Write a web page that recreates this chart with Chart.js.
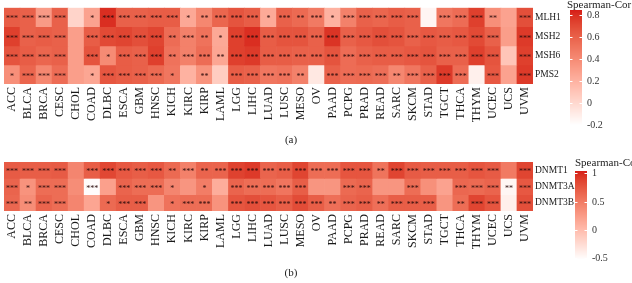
<!DOCTYPE html>
<html><head><meta charset="utf-8">
<script src="https://cdn.jsdelivr.net/npm/chart.js@4/dist/chart.umd.min.js"></script>
<style>
html,body{margin:0;padding:0;background:#fff;}
#wrap{position:relative;width:632px;height:283px;overflow:hidden;background:#fff;}
#a{position:absolute;left:0;top:0;}
#b{position:absolute;left:0;top:150px;}
</style></head><body>
<div id="wrap"><canvas id="a" width="632" height="150"></canvas><canvas id="b" width="632" height="133"></canvas></div>
<script>
// ---------- data ----------
const cancers = ['ACC','BLCA','BRCA','CESC','CHOL','COAD','DLBC','ESCA','GBM','HNSC','KICH','KIRC','KIRP','LAML','LGG','LIHC','LUAD','LUSC','MESO','OV','PAAD','PCPG','PRAD','READ','SARC','SKCM','STAD','TGCT','THCA','THYM','UCEC','UCS','UVM'];

const genesA = ['MLH1','MSH2','MSH6','PMS2'];
const MLH1 = [0.62,0.60,0.32,0.60,0.02,0.28,0.80,0.60,0.60,0.62,0.62,0.25,0.42,0.58,0.66,0.62,0.24,0.60,0.56,0.48,0.20,0.45,0.60,0.58,0.62,0.60,-0.15,0.50,0.55,0.74,0.38,0.28,0.68];
const MSH2 = [0.74,0.60,0.62,0.60,0.30,0.62,0.70,0.72,0.68,0.72,0.55,0.45,0.52,0.25,0.74,0.80,0.62,0.66,0.66,0.60,0.78,0.60,0.64,0.68,0.66,0.60,0.64,0.62,0.64,0.70,0.60,0.30,0.76];
const MSH6 = [0.66,0.62,0.58,0.60,0.30,0.66,0.40,0.62,0.60,0.74,0.52,0.45,0.55,0.26,0.74,0.76,0.62,0.62,0.60,0.60,0.66,0.55,0.60,0.62,0.62,0.64,0.66,0.60,0.60,0.74,0.66,0.10,0.74];
const PMS2 = [0.38,0.58,0.42,0.55,0.30,0.26,0.65,0.62,0.60,0.56,0.50,0.20,0.36,0.06,0.62,0.60,0.50,0.52,0.45,-0.08,0.60,0.55,0.56,0.54,0.42,0.50,0.60,0.76,0.55,-0.12,0.64,0.28,0.76];
const starsMLH1 = [3,3,3,3,0,1,3,3,3,3,3,1,2,3,3,3,1,3,2,3,1,3,3,3,3,3,0,3,3,3,2,0,3];
const starsMSH2 = [3,3,3,3,0,3,3,3,3,3,2,3,2,1,3,3,3,3,3,3,3,3,3,3,3,3,3,3,3,3,3,0,3];
const starsMSH6 = [3,3,3,3,0,3,1,3,3,3,2,3,3,2,3,3,3,3,3,3,3,3,3,3,3,3,3,3,3,3,3,0,3];
const starsPMS2 = [1,3,3,3,0,1,3,3,3,3,1,0,2,0,3,3,3,3,2,0,3,3,3,3,2,3,3,3,3,0,3,0,3];
const ticksA = [0.8,0.6,0.4,0.2,0,-0.2];

const genesB = ['DNMT1','DNMT3A','DNMT3B'];
const DNMT1  = [0.72,0.70,0.70,0.72,0.42,0.70,0.85,0.74,0.70,0.74,0.62,0.45,0.66,0.66,0.88,0.92,0.66,0.70,0.86,0.60,0.60,0.76,0.76,0.55,0.86,0.72,0.70,0.70,0.70,0.76,0.72,0.50,0.86];
const DNMT3A = [0.66,0.32,0.60,0.60,0.36,-0.50,0.22,0.66,0.60,0.60,0.42,0.30,0.48,0.12,0.66,0.60,0.60,0.54,0.70,0.30,0.30,0.62,0.66,0.30,0.30,0.60,0.34,0.20,0.64,0.62,0.66,-0.45,0.74];
const DNMT3B = [0.64,0.36,0.66,0.60,0.42,0.18,0.62,0.70,0.70,0.30,0.56,0.60,0.60,0.32,0.76,0.80,0.76,0.70,0.82,0.70,0.58,0.66,0.70,0.58,0.70,0.70,0.70,0.30,0.60,0.86,0.76,-0.40,0.80];
const starsDNMT1  = [3,3,3,3,0,3,3,3,3,3,2,3,2,3,3,3,3,3,3,3,3,3,3,2,3,3,3,3,3,3,3,0,3];
const starsDNMT3A = [3,1,3,3,0,3,0,3,3,3,1,0,1,0,3,3,3,3,3,0,0,3,3,0,0,3,0,0,3,3,3,2,3];
const starsDNMT3B = [3,2,3,3,0,0,1,3,3,0,1,3,3,0,3,3,3,3,3,3,2,3,3,2,3,3,3,0,2,3,3,0,3];
const ticksB = [1,0.5,0,-0.5];

// ---------- colour (Lab interpolation white -> red) ----------
function s2l(c){c/=255;return c<=0.04045?c/12.92:Math.pow((c+0.055)/1.055,2.4);}
function l2s(c){c=c<=0.0031308?12.92*c:1.055*Math.pow(c,1/2.4)-0.055;return Math.max(0,Math.min(255,Math.round(c*255)));}
function rgb2lab(r,g,b){r=s2l(r);g=s2l(g);b=s2l(b);
 let x=(0.4124*r+0.3576*g+0.1805*b)/0.95047,y=(0.2126*r+0.7152*g+0.0722*b),z=(0.0193*r+0.1192*g+0.9505*b)/1.08883;
 const f=t=>t>0.008856?Math.cbrt(t):7.787*t+16/116;
 const fx=f(x),fy=f(y),fz=f(z);return [116*fy-16,500*(fx-fy),200*(fy-fz)];}
function lab2rgb(L,a,b){const fy=(L+16)/116,fx=fy+a/500,fz=fy-b/200;
 const fi=t=>t*t*t>0.008856?t*t*t:(t-16/116)/7.787;
 const x=fi(fx)*0.95047,y=fi(fy),z=fi(fz)*1.08883;
 const r=3.2406*x-1.5372*y-0.4986*z,g=-0.9689*x+1.8758*y+0.0415*z,bb=0.0557*x-0.2040*y+1.0570*z;
 return [l2s(r),l2s(g),l2s(bb)];}
const LOW=rgb2lab(255,255,255), HIGH=rgb2lab(214,30,24);
function colorFor(v,lo,hi){let t=(v-lo)/(hi-lo);t=Math.max(0,Math.min(1,t));
 const c=lab2rgb(LOW[0]+(HIGH[0]-LOW[0])*t,LOW[1]+(HIGH[1]-LOW[1])*t,LOW[2]+(HIGH[2]-LOW[2])*t);
 return 'rgb('+c.join(',')+')';}

const SERIF='"Liberation Serif", "Times New Roman", serif';

function makeHeatmap(id, genes, values, stars, cfg){
  const datasets = genes.map((g,i)=>({
    label:g,
    data: cancers.map(()=>[i-0.5,i+0.5]),
    backgroundColor: values[i].map(v=>colorFor(v,cfg.lo,cfg.hi)),
    borderWidth:0, barPercentage:1, categoryPercentage:1, grouped:false
  }));
  const starPlugin = {id:'stars', afterDatasetsDraw(chart){
    const ctx=chart.ctx; ctx.save();
    ctx.font='8px '+SERIF; ctx.fillStyle='#2a0b0b'; ctx.textAlign='center'; ctx.textBaseline='alphabetic';
    chart.data.datasets.forEach((ds,i)=>{
      const meta=chart.getDatasetMeta(i);
      meta.data.forEach((el,j)=>{const n=stars[i][j]; if(!n) return;
        ctx.fillText('*'.repeat(n), el.x, (el.y+el.base)/2+4.2);});
    });
    ctx.restore();}};
  const legendPlugin = {id:'cbar', afterDraw(chart){
    const ctx=chart.ctx, ca=chart.chartArea; ctx.save();
    const bx=ca.right+cfg.barOff, bw=12;
    const py=v=>cfg.y0+(cfg.ticks[0]-v)*cfg.ppu;
    const top=py(cfg.hi), bot=py(cfg.lo);
    for(let y=Math.floor(top); y<bot; y+=1){
      const v=cfg.ticks[0]-(y+0.5-cfg.y0)/cfg.ppu;
      ctx.fillStyle=colorFor(v,cfg.lo,cfg.hi); ctx.fillRect(bx,y,bw,1.2);
    }
    ctx.strokeStyle='#fff'; ctx.lineWidth=1;
    ctx.font='10px '+SERIF; ctx.fillStyle='#333'; ctx.textAlign='left'; ctx.textBaseline='middle';
    cfg.ticks.forEach(t=>{const y=Math.round(py(t))+0.5;
      if(y>top && y<bot){ctx.beginPath();ctx.moveTo(bx,y);ctx.lineTo(bx+2.5,y);ctx.moveTo(bx+bw-2.5,y);ctx.lineTo(bx+bw,y);ctx.stroke();}
      ctx.fillText(String(t), bx+bw+5, y);});
    ctx.font='11px '+SERIF; ctx.fillStyle='#222';
    ctx.fillText('Spearman-Cor', ca.right+cfg.titleOff, cfg.titleY);
    ctx.restore();}};
  return new Chart(document.getElementById(id), {
    type:'bar',
    data:{labels:cancers, datasets},
    options:{
      responsive:false, animation:false, devicePixelRatio:1,
      layout:{padding:{top:cfg.padTop,left:4,right:54,bottom:0}},
      plugins:{legend:{display:false}, tooltip:{enabled:false},
        title:{display:true, position:'bottom', text:cfg.caption, color:'#222',
          font:{family:SERIF,size:11,weight:'normal'}, padding:{top:0,bottom:3}}},
      scales:{
        x:{type:'category', grid:{display:false, drawTicks:false}, border:{display:false},
           ticks:{minRotation:90,maxRotation:90,autoSkip:false,padding:3,color:'#1a1a1a',font:{family:SERIF,size:12}},
           afterFit(s){s.height=cfg.xH;}},
        y:{type:'linear', position:'right', reverse:true, min:-0.5, max:genes.length-0.5,
           grid:{display:false, drawTicks:false}, border:{display:false},
           afterBuildTicks(ax){ax.ticks=genes.map((g,i)=>({value:i}));},
           ticks:{padding:2,color:'#1a1a1a',font:{family:SERIF,size:9.5},callback:v=>genes[v]},
           afterFit(s){s.width=45;}}
      }
    },
    plugins:[starPlugin, legendPlugin]
  });
}

makeHeatmap('a', genesA, [MLH1,MSH2,MSH6,PMS2], [starsMLH1,starsMSH2,starsMSH6,starsPMS2],
  {lo:-0.2, hi:0.84, ticks:ticksA, y0:15, ppu:110, barOff:37, titleOff:34, titleY:5, padTop:1, xH:49.8, caption:'(a)'});
makeHeatmap('b', genesB, [DNMT1,DNMT3A,DNMT3B], [starsDNMT1,starsDNMT3A,starsDNMT3B],
  {lo:-0.52, hi:1.04, ticks:ticksB, y0:23.3, ppu:56.8, barOff:42, titleOff:42, titleY:13, padTop:12, xH:55.8, caption:'(b)'});
</script>
</body></html>
